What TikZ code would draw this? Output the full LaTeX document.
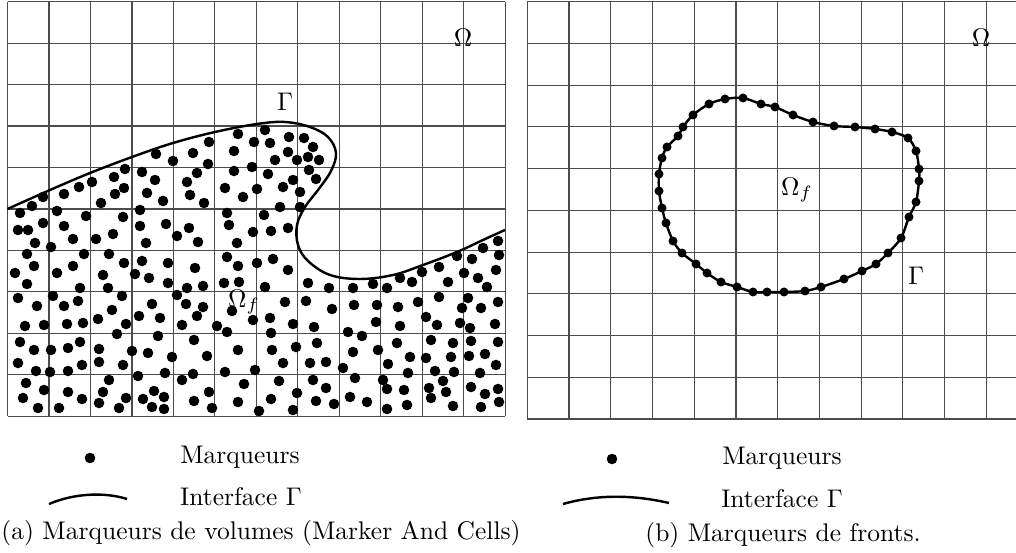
\documentclass[tikz,border=0pt]{standalone}
\usepackage{amsmath,amssymb}
\usepackage{tikz}

\tikzset{
  gridline/.style={black!70,line width=0.45pt},
  interface/.style={black,line width=0.95pt},
  label/.style={inner sep=0pt},
}

\begin{document}
\begin{tikzpicture}[x=0.3922pt,y=-0.3922pt]
    \useasboundingbox (0,0) rectangle (1016,553);

    % grille (a)
    \foreach \i in {0,...,12}
        \draw[gridline] ({7.5+41.48*\i},1.7) -- ({7.5+41.48*\i},416.3);
    \foreach \j in {0,...,10}
        \draw[gridline] (7.5,{1.7+41.46*\j}) -- (505.3,{1.7+41.46*\j});

    % grille (b)
    \foreach \i in {0,...,11}
        \draw[gridline] ({527.3+41.73*\i},1.7) -- ({527.3+41.73*\i},419);
    \foreach \j in {0,...,10}
        \draw[gridline] (527.3,{1.7+41.73*\j}) -- (1016,{1.7+41.73*\j});

    % marqueurs de volumes
    \foreach \p in {(238,134),(254,142),(209,142),(234,151),(193,153),(156,154),(173,161),(208,164),(252,167),
        (234,171),(197,173),(142,172),(125,169),(114,177),(155,180),(187,182),(92,182),(79,187),(64,194),
        (43,197),(115,194),(124,188),(147,193),(190,195),(225,188),(243,197),(257,189),
        (265,130),(270,143),(289,137),(304,138),(313,147),(288,152),(297,160),(275,160),(308,157),(319,160),
        (268,174),(293,180),(309,170),(316,179),(283,187),(300,192),
        (32,206),(20,213),(57,211),(86,216),(43,223),(18,230),(28,230),(64,226),(35,243),(51,247),(73,239),
        (96,239),(113,234),(123,217),(101,203),(140,210),(140,226),(166,224),(146,243),(177,236),(189,228),
        (198,242),(163,201),(204,203),(227,213),(229,225),(237,243),
        (27,254),(15,273),(34,266),(27,284),(57,273),(73,266),(84,254),(80,288),(103,275),(108,288),(124,263),
        (109,254),(135,274),(142,261),(149,278),(168,263),(168,283),(195,268),(187,288),(203,286),(227,257),
        (238,266),(224,283),(239,282),
        (18,298),(37,306),(25,326),(44,325),(53,296),(64,306),(78,301),(67,324),(83,323),(98,319),(112,310),
        (122,296),(126,324),(139,316),(152,304),(160,318),(117,334),(177,295),(186,304),(197,316),(182,325),
        (203,307),(217,326),(227,332),(232,311),
        (20,342),(34,350),(51,350),(68,348),(80,342),(18,363),(36,371),(50,372),(68,371),(82,365),(99,349),
        (99,362),(123,365),(132,351),(148,353),(158,336),(172,357),(138,376),(165,373),(194,340),(207,356),
        (193,374),(182,380),(225,372),(238,350),
        (26,383),(23,398),(38,408),(44,390),(59,408),(68,392),(82,399),(99,403),(103,392),(109,380),(119,408),
        (126,398),(143,399),(154,391),(152,407),(164,397),(164,409),(194,401),(209,392),(212,408),(244,384),
        (238,402),
        (280,207),(300,207),(264,215),(253,232),(271,231),(288,228),
        (257,263),(273,259),(288,270),(265,287),(308,283),(329,288),(353,288),(373,284),(387,288),(400,278),
        (412,282),(422,272),(439,267),(448,282),(457,256),(464,273),(472,259),(478,278),(487,287),(496,270),
        (498,241),(483,248),(499,255),
        (285,302),(306,301),(332,309),(354,305),(377,305),(398,307),(418,302),(439,297),(468,298),(462,308),
        (481,308),(498,302),(253,320),(270,318),(271,333),(293,324),(314,327),(348,332),(362,336),(376,322),
        (400,326),(426,317),(437,325),(460,323),(470,328),(495,324),
        (272,350),(283,363),(296,347),(317,343),(310,363),(326,362),(353,352),(343,368),(378,350),(388,364),
        (397,343),(410,357),(408,373),(426,358),(431,340),(435,371),(451,357),(453,343),(454,372),(471,341),
        (469,356),(480,373),(485,354),(498,342),(496,365),(255,370),
        (279,381),(271,399),(259,411),(297,393),(293,410),(313,380),(326,388),(316,401),(334,404),(355,378),
        (350,397),(367,402),(383,380),(387,389),(387,409),(404,390),(407,405),(429,388),(431,398),(443,381),
        (446,392),(453,406),(471,387),(485,394),(481,407),(498,389),(499,402)}
        \fill \p circle (5.3);

    % interface (a)
    \draw[interface] plot[smooth,tension=0.6] coordinates {(7.5,209) (50,190) (90,173) (132,157) (173,143)
        (215,132) (257,124) (285,122) (310,127) (328,137) (336,153) (331,171) (318,190) (305,207) (297,225)
        (298,245) (308,261) (330,275) (360,279) (393,275) (423,265) (457,252) (483,240) (505,230)};

    % interface (b) et marqueurs de fronts
    \draw[interface] plot[smooth cycle,tension=0.5] coordinates {(659,174) (662,158) (667,147) (678,136)
        (683,127) (693,115) (709,104) (725,99) (743,98) (761,104) (775,107) (793,115) (813,122) (834,126)
        (855,127) (875,129) (892,132) (908,138) (916,151) (919,169) (919,181) (916,202) (909,217) (901,238)
        (888,253) (876,264) (862,271) (844,279) (821,287) (805,291) (784,292) (767,292) (753,292) (737,287)
        (721,282) (707,273) (696,264) (682,253) (673,241) (666,223) (662,208) (659,191)};
    \foreach \p in {(659,174),(662,158),(667,147),(678,136),(683,127),(693,115),(709,104),(725,99),(743,98),
        (761,104),(775,107),(793,115),(813,122),(834,126),(855,127),(875,129),(892,132),(908,138),(916,151),
        (919,169),(919,181),(916,202),(909,217),(901,238),(888,253),(876,264),(862,271),(844,279),(821,287),
        (805,291),(784,292),(767,292),(753,292),(737,287),(721,282),(707,273),(696,264),(682,253),(673,241),
        (666,223),(662,208),(659,191)}
        \fill \p circle (4.5);

    % etiquettes
    \node[label] (omegaA) at (463,38) {$\Omega$};
    \node[label] (gammaA) at (285,102) {$\Gamma$};
    \node[label] (omegafA) at (244,302) {$\Omega_f$};
    \node[label] (omegaB) at (981,38) {$\Omega$};
    \node[label] (omegafB) at (797,190) {$\Omega_f$};
    \node[label] (gammaB) at (916,276) {$\Gamma$};

    % legendes
    \fill (90,458) circle (5.3);
    \node (markA) at (240,457) {Marqueurs};
    \draw[interface] (49,504) .. controls (75,493) and (105,492) .. (127,499);
    \node (ifaceA) at (241,497) {Interface $\Gamma$};
    \node (capA) at (261,533) {(a) Marqueurs de volumes (Marker And Cells)};

    \fill (612,459) circle (5.3);
    \node (markB) at (782,458) {Marqueurs};
    \draw[interface] (563,504) .. controls (595,495) and (630,494) .. (669,503);
    \node (ifaceB) at (782,499) {Interface $\Gamma$};
    \node (capB) at (783,535) {(b) Marqueurs de fronts.};
\end{tikzpicture}
\end{document}
